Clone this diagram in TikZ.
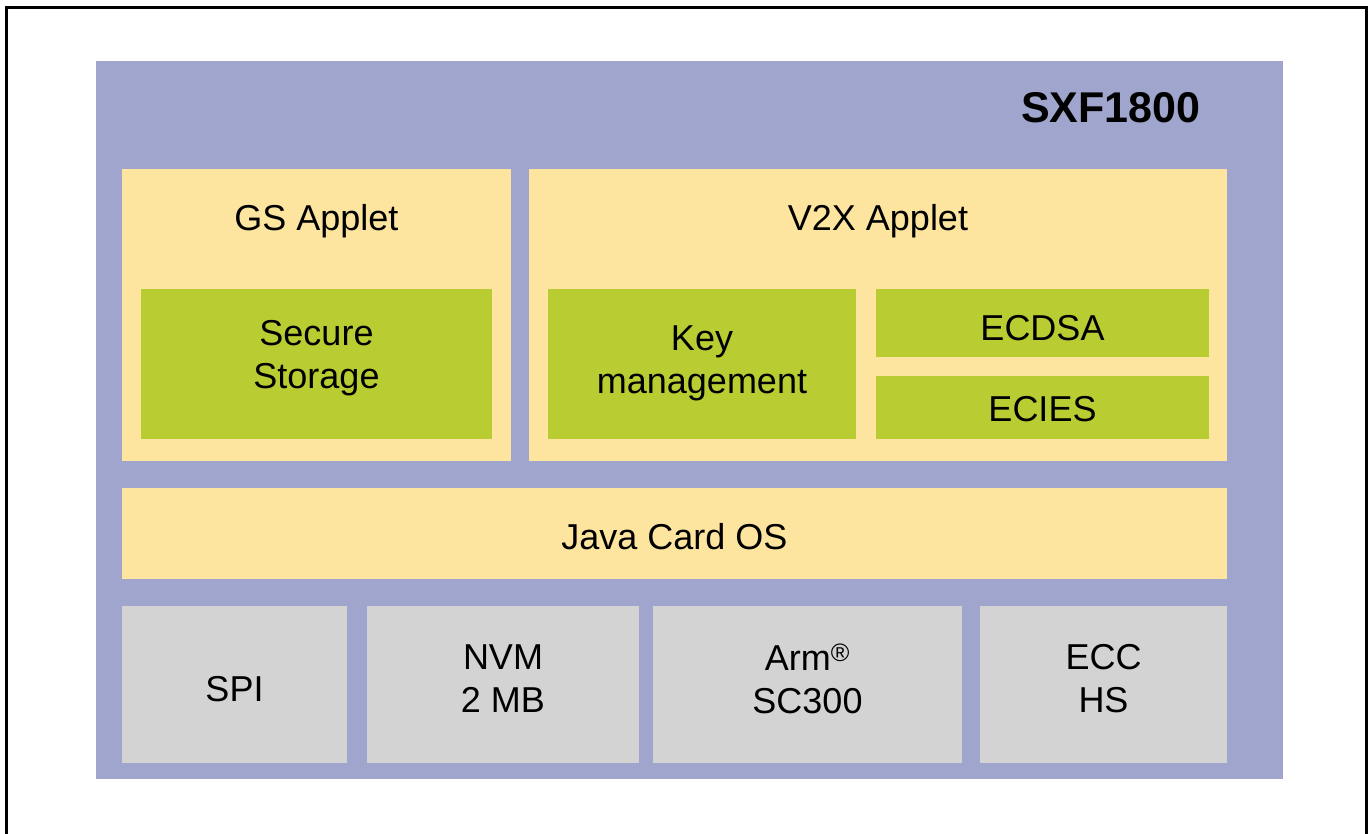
\documentclass[tikz,border=0pt]{standalone}
\usepackage{fontspec}
\setmainfont{Liberation Sans}
\usepackage{tikz}
\usetikzlibrary{calc}

\definecolor{chipblue}{HTML}{A0A5CD}
\definecolor{appyellow}{HTML}{FDE59F}
\definecolor{funcgreen}{HTML}{B9CD33}
\definecolor{hwgray}{HTML}{D3D3D3}

\begin{document}
\begin{tikzpicture} [x=1pt,y=-1pt,
    box/.style= {anchor=north west,inner sep=0,outer sep=0,align=center,font=\fontsize{36}{44}\selectfont},
    chip/.style= {box,fill=chipblue},
    applet/.style= {box,fill=appyellow},
    func/.style= {box,fill=funcgreen},
    hw/.style= {box,fill=hwgray},
    txt/.style= {align=center,font=\fontsize{36}{43}\selectfont}]
    \useasboundingbox (0,0) rectangle (1369,834);
    % frame, open at the bottom
    \draw[line width=3pt] (6,834) -- (6,8) -- (1366,8) -- (1366,834);

    \node[chip,minimum width=1187,minimum height=718] (chip) at (96,61) {};
    \node[anchor=base east,font=\fontsize{43}{50}\selectfont\bfseries] (name) at (1204,123) {SXF1800};

    % applets
    \node[applet,minimum width=389,minimum height=292] (gs) at (122,169) {};
    \node[applet,minimum width=698,minimum height=292] (v2x) at (529,169) {};
    \node[txt] (gslabel) at (316.5,221) {GS Applet};
    \node[txt] (v2xlabel) at (878,221) {V2X Applet};

    \node[func,minimum width=351,minimum height=150] (store) at (141,289) {};
    \node[txt] at (316.5,358) {Secure\\Storage};
    \node[func,minimum width=308,minimum height=150] (keys) at (548,289) {};
    \node[txt] at (702,363) {Key\\management};
    \node[func,minimum width=333,minimum height=68] (ecdsa) at (876,289) {};
    \node[txt] at (1042.5,328) {ECDSA};
    \node[func,minimum width=333,minimum height=63] (ecies) at (876,376) {};
    \node[txt] at (1042.5,409) {ECIES};

    % operating system
    \node[applet,minimum width=1105,minimum height=91] (os) at (122,488) {};
    \node[txt] at (674.5,537) {Java Card OS};

    % hardware blocks
    \foreach \x/\w/\t/\n/\dy in {122/225/SPI/spi/5, 367/272/{NVM\\2 MB}/nvm/-6,
        653/309/{Arm\textsuperscript{®}\\SC300}/arm/-6, 980/247/{ECC\\HS}/ecc/-6}{%
        \node[hw,minimum width=\w,minimum height=157] (\n) at (\x,606) {};
        \node[txt] at ($(\n.center)+(0,\dy)$) {\t};}
\end{tikzpicture}
\end{document}
